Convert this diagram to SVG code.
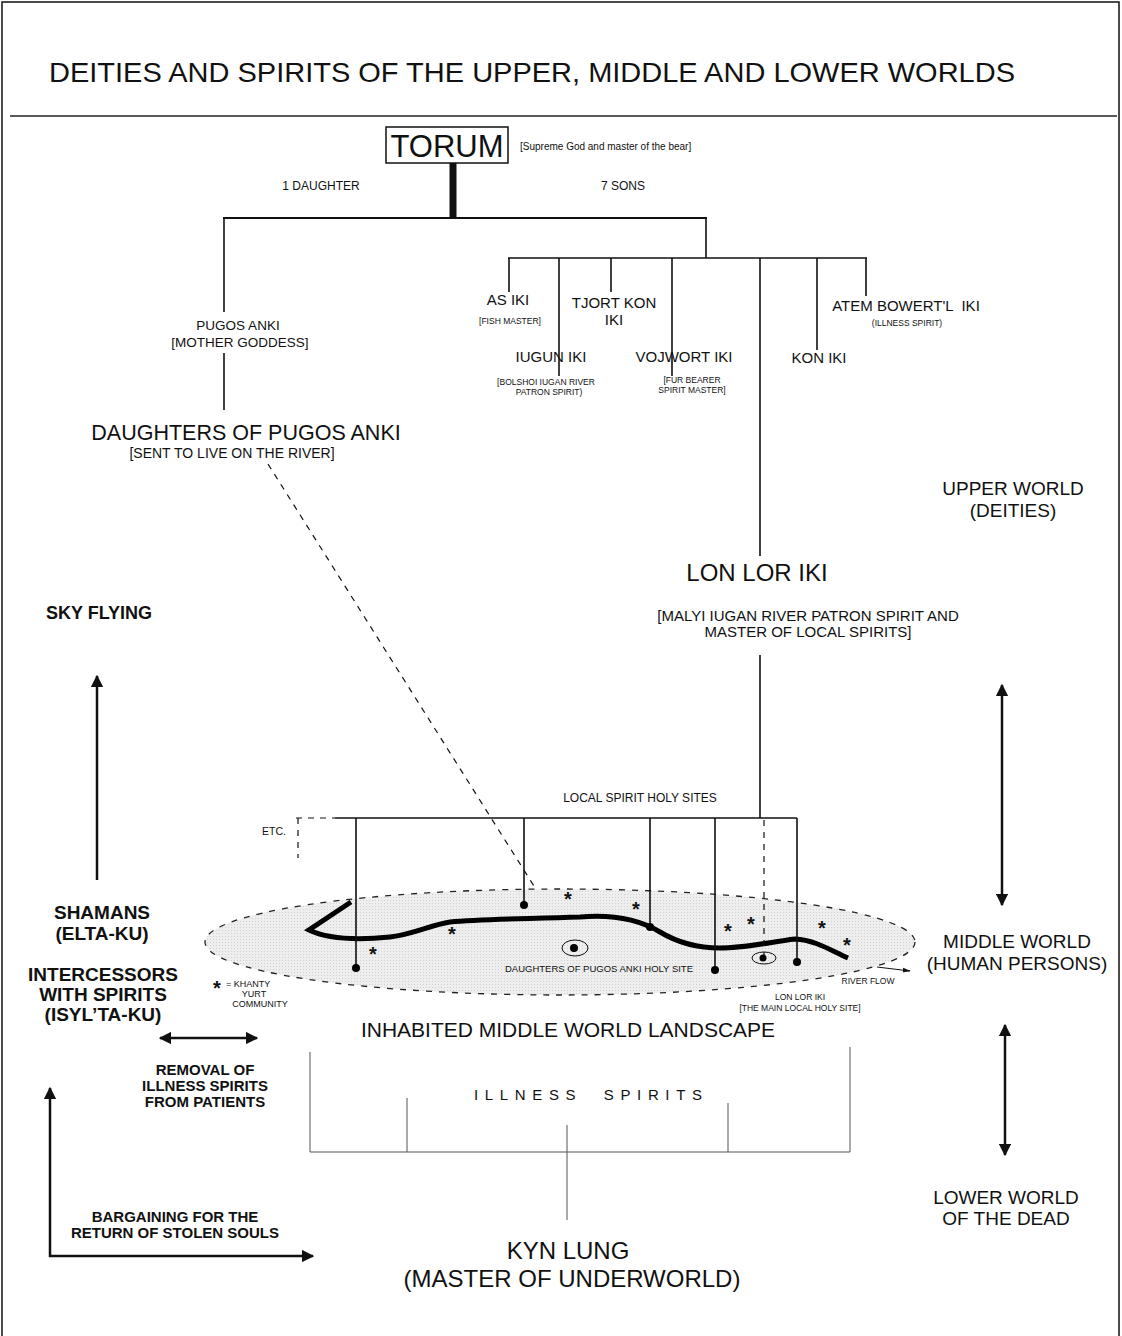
<svg xmlns="http://www.w3.org/2000/svg" width="1122" height="1336" viewBox="0 0 1122 1336">
<defs>
<style>
text{font-family:"Liberation Sans",Arial,sans-serif;fill:#111;}
.c{text-anchor:middle;}
.b{font-weight:bold;}
.ln{stroke:#111;stroke-width:1.6;fill:none;}
.thin{stroke:#555;stroke-width:1;fill:none;}
.dash{stroke:#111;stroke-width:1.2;fill:none;stroke-dasharray:6 6;}
.arw{stroke:#111;stroke-width:2.5;fill:none;}
.star{font-size:20px;font-weight:bold;text-anchor:middle;}
</style>
<marker id="ah" viewBox="0 0 10 10" refX="9" refY="5" markerWidth="5" markerHeight="5" orient="auto-start-reverse">
<path d="M0,0 L10,5 L0,10 z" fill="#111"/>
</marker>
<marker id="ahs" viewBox="0 0 10 10" refX="9" refY="5" markerWidth="8" markerHeight="8" orient="auto">
<path d="M0,2 L10,5 L0,8 z" fill="#111"/>
</marker>
<pattern id="stip" width="3" height="3" patternUnits="userSpaceOnUse">
<rect width="3" height="3" fill="#eeeeee"/>
<rect width="1" height="1" fill="#d2d2d2"/>
</pattern>
</defs>
<rect x="0" y="0" width="1122" height="1336" fill="#fff"/>
<rect x="2" y="2" width="1117" height="1345" fill="none" stroke="#111" stroke-width="1.5"/>

<g id="title">
<text x="532" y="82" class="c" font-size="28" textLength="966" lengthAdjust="spacingAndGlyphs">DEITIES AND SPIRITS OF THE UPPER, MIDDLE AND LOWER WORLDS</text>
<line x1="10" y1="116" x2="1117" y2="116" stroke="#222" stroke-width="1.5"/>
</g>

<g id="connectors">
<line x1="453" y1="163" x2="453" y2="218" stroke="#111" stroke-width="7"/>
<line x1="223" y1="218" x2="707" y2="218" stroke="#111" stroke-width="2"/>
<line class="ln" x1="224" y1="218" x2="224" y2="312"/>
<line class="ln" x1="224" y1="353" x2="224" y2="410"/>
<line class="ln" x1="706" y1="218" x2="706" y2="258"/>
<line class="ln" x1="508" y1="258" x2="867" y2="258"/>
<line class="ln" x1="509" y1="258" x2="509" y2="292"/>
<line class="ln" x1="559" y1="258" x2="559" y2="376"/>
<line class="ln" x1="611" y1="258" x2="611" y2="292"/>
<line class="ln" x1="672" y1="258" x2="672" y2="376"/>
<line class="ln" x1="760" y1="258" x2="760" y2="556"/>
<line class="ln" x1="817" y1="258" x2="817" y2="350"/>
<line class="ln" x1="866" y1="258" x2="866" y2="296"/>
<line class="dash" x1="268" y1="464" x2="568" y2="940"/>
<line class="ln" x1="760" y1="655" x2="760" y2="818"/>
<line class="ln" x1="335" y1="818" x2="797" y2="818"/>
<line class="dash" x1="296" y1="818" x2="335" y2="818"/>
<line class="dash" x1="298" y1="818" x2="298" y2="858"/>
<line class="arw" x1="97" y1="880" x2="97" y2="676" marker-end="url(#ah)"/>
<line class="arw" x1="160" y1="1038" x2="257" y2="1038" marker-start="url(#ah)" marker-end="url(#ah)"/>
<polyline class="arw" points="50,1088 50,1256 313,1256" marker-start="url(#ah)" marker-end="url(#ah)"/>
<line class="arw" x1="1002" y1="685" x2="1002" y2="905" marker-start="url(#ah)" marker-end="url(#ah)"/>
<line class="arw" x1="1005" y1="1025" x2="1005" y2="1155" marker-start="url(#ah)" marker-end="url(#ah)"/>
<polyline class="thin" points="310,1052 310,1152 850,1152 850,1047"/>
<line class="thin" x1="407" y1="1098" x2="407" y2="1152"/>
<line class="thin" x1="728" y1="1103" x2="728" y2="1152"/>
<line class="thin" x1="567" y1="1125" x2="567" y2="1220"/>
</g>

<g id="torum">
<rect x="386" y="127" width="122" height="36" fill="#fff" stroke="#111" stroke-width="1.5"/>
<text x="447" y="157" class="c" font-size="31">TORUM</text>
<text x="520" y="150" font-size="10">[Supreme God and master of the bear]</text>
</g>
<g id="labels-children">
<text x="321" y="190" class="c" font-size="12">1 DAUGHTER</text>
<text x="623" y="190" class="c" font-size="12">7 SONS</text>
</g>

<g id="pugos-anki">
<text x="238" y="330" class="c" font-size="13.5">PUGOS ANKI</text>
<text x="240" y="347" class="c" font-size="13.5">[MOTHER GODDESS]</text>
</g>
<g id="daughters">
<text x="246" y="440" class="c" font-size="21.5">DAUGHTERS OF PUGOS ANKI</text>
<text x="232" y="458" class="c" font-size="14">[SENT TO LIVE ON THE RIVER]</text>
</g>

<g id="as-iki">
<text x="508" y="305" class="c" font-size="15">AS IKI</text>
<text x="510" y="324" class="c" font-size="8.5">[FISH MASTER]</text>
</g>
<g id="tjort-kon-iki">
<text x="614" y="308" class="c" font-size="15">TJORT KON</text>
<text x="614" y="325" class="c" font-size="15">IKI</text>
</g>
<g id="iugun-iki">
<text x="551" y="362" class="c" font-size="15">IUGUN IKI</text>
<text x="546" y="385" class="c" font-size="8.5">[BOLSHOI IUGAN RIVER</text>
<text x="549" y="395" class="c" font-size="8.5">PATRON SPIRIT)</text>
</g>
<g id="vojwort-iki">
<text x="684" y="362" class="c" font-size="15">VOJWORT IKI</text>
<text x="692" y="383" class="c" font-size="8.5">[FUR BEARER</text>
<text x="692" y="393" class="c" font-size="8.5">SPIRIT MASTER]</text>
</g>
<g id="kon-iki">
<text x="819" y="363" class="c" font-size="15">KON IKI</text>
</g>
<g id="atem-bowertl-iki">
<text x="906" y="311" class="c" font-size="15" xml:space="preserve">ATEM BOWERT'L  IKI</text>
<text x="907" y="326" class="c" font-size="8.5">(ILLNESS SPIRIT)</text>
</g>

<g id="lon-lor-iki">
<text x="757" y="581" class="c" font-size="24">LON LOR IKI</text>
<text x="808" y="621" class="c" font-size="15">[MALYI IUGAN RIVER PATRON SPIRIT AND</text>
<text x="808" y="637" class="c" font-size="15">MASTER OF LOCAL SPIRITS]</text>
</g>

<g id="worlds">
<text x="1013" y="495" class="c" font-size="19">UPPER WORLD</text>
<text x="1013" y="517" class="c" font-size="19">(DEITIES)</text>
<text x="1017" y="948" class="c" font-size="19">MIDDLE WORLD</text>
<text x="1017" y="970" class="c" font-size="19">(HUMAN PERSONS)</text>
<text x="1006" y="1204" class="c" font-size="19">LOWER WORLD</text>
<text x="1006" y="1225" class="c" font-size="19">OF THE DEAD</text>
</g>

<g id="shamans">
<text x="99" y="619" class="c b" font-size="18">SKY FLYING</text>
<text x="102" y="919" class="c b" font-size="19">SHAMANS</text>
<text x="102" y="940" class="c b" font-size="19">(ELTA-KU)</text>
<text x="103" y="981" class="c b" font-size="19">INTERCESSORS</text>
<text x="103" y="1001" class="c b" font-size="19">WITH SPIRITS</text>
<text x="103" y="1021" class="c b" font-size="19">(ISYL’TA-KU)</text>
<text x="205" y="1075" class="c b" font-size="15">REMOVAL OF</text>
<text x="205" y="1091" class="c b" font-size="15">ILLNESS SPIRITS</text>
<text x="205" y="1107" class="c b" font-size="15">FROM PATIENTS</text>
<text x="175" y="1222" class="c b" font-size="15">BARGAINING FOR THE</text>
<text x="175" y="1238" class="c b" font-size="15">RETURN OF STOLEN SOULS</text>
</g>

<g id="landscape">
<text x="640" y="802" class="c" font-size="12">LOCAL SPIRIT HOLY SITES</text>
<text x="274" y="835" class="c" font-size="10.5">ETC.</text>
<ellipse cx="560" cy="942" rx="355" ry="53" fill="url(#stip)" stroke="#222" stroke-width="1.3" stroke-dasharray="6 7"/>
<path d="M351,902 L309,930 C330,940 360,940 390,937 C415,934 430,925 450,922 C480,919 520,919 580,917 C615,914 640,920 660,932 C680,944 700,948 720,948 C745,948 770,942 795,939 C815,940 830,950 848,958" fill="none" stroke="#000" stroke-width="5" stroke-linejoin="miter"/>
<g class="sites">
<line class="ln" x1="356" y1="818" x2="356" y2="968"/>
<line class="ln" x1="524" y1="818" x2="524" y2="905"/>
<line class="ln" x1="650" y1="818" x2="650" y2="927"/>
<line class="ln" x1="715" y1="818" x2="715" y2="970"/>
<line class="ln" x1="797" y1="818" x2="797" y2="962"/>
<line class="dash" x1="764" y1="820" x2="764" y2="957"/>
<circle cx="356" cy="968" r="4"/>
<circle cx="524" cy="905" r="4"/>
<circle cx="650" cy="927" r="4"/>
<circle cx="715" cy="970" r="4"/>
<circle cx="797" cy="962" r="4"/>
<ellipse cx="575" cy="948" rx="13" ry="8" fill="none" stroke="#111" stroke-width="1"/>
<circle cx="574" cy="948" r="4"/>
<ellipse cx="764" cy="958" rx="12" ry="6" fill="none" stroke="#111" stroke-width="1"/>
<circle cx="763" cy="958" r="3.5"/>
</g>
<text class="star" x="568" y="906">*</text>
<text class="star" x="636" y="916">*</text>
<text class="star" x="452" y="941">*</text>
<text class="star" x="373" y="961">*</text>
<text class="star" x="728" y="938">*</text>
<text class="star" x="751" y="931">*</text>
<text class="star" x="822" y="935">*</text>
<text class="star" x="847" y="952">*</text>
<text x="599" y="972" class="c" font-size="9" textLength="188" lengthAdjust="spacingAndGlyphs">DAUGHTERS OF PUGOS ANKI HOLY SITE</text>
<text x="868" y="984" class="c" font-size="8.5">RIVER FLOW</text>
<line x1="877" y1="967" x2="910" y2="971" stroke="#111" stroke-width="1" marker-end="url(#ahs)"/>
<text x="800" y="1000" class="c" font-size="8.5">LON LOR IKI</text>
<text x="800" y="1011" class="c" font-size="8.5">[THE MAIN LOCAL HOLY SITE]</text>
<text x="217" y="995" class="star" font-size="19">*</text>
<text x="226" y="987" font-size="9">= KHANTY</text>
<text x="254" y="997" class="c" font-size="9">YURT</text>
<text x="260" y="1007" class="c" font-size="9">COMMUNITY</text>
<text x="568" y="1037" class="c" font-size="21">INHABITED MIDDLE WORLD LANDSCAPE</text>
</g>

<g id="illness-spirits">
<text x="588" y="1100" class="c" font-size="15" textLength="228" lengthAdjust="spacing" xml:space="preserve">ILLNESS  SPIRITS</text>
</g>
<g id="kyn-lung">
<text x="568" y="1259" class="c" font-size="24">KYN LUNG</text>
<text x="572" y="1287" class="c" font-size="24">(MASTER OF UNDERWORLD)</text>
</g>
</svg>
